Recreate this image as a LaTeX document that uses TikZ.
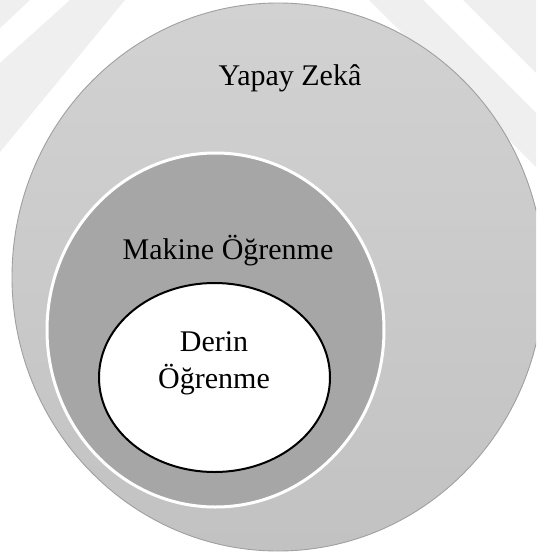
\documentclass[tikz,border=0pt]{standalone}
\usepackage{fontspec}
\setmainfont{Liberation Serif}
\usetikzlibrary{shapes.geometric}

\definecolor{markgray}{HTML}{EFEFEF}
\definecolor{aitop}{HTML}{D2D2D2}
\definecolor{aibottom}{HTML}{C2C2C2}
\definecolor{aiedge}{HTML}{A0A0A0}
\definecolor{mlfill}{HTML}{A6A6A6}

\tikzset{
  setlabel/.style={font=\fontsize{30}{37}\selectfont, text=black, inner sep=0pt, anchor=base},
  band/.style={fill=markgray, draw=none},
  aiset/.style={ellipse, inner sep=0pt, outer sep=0pt, draw=aiedge, line width=0.9pt,
                top color=aitop, bottom color=aibottom},
  mlset/.style={ellipse, inner sep=0pt, outer sep=0pt, draw=white, line width=3pt, fill=mlfill},
  dlset/.style={ellipse, inner sep=0pt, outer sep=0pt, draw=black, line width=2pt, fill=white},
}

\begin{document}
\begin{tikzpicture}[x=1pt, y=-1pt]
  \useasboundingbox (0,0) rectangle (536,554);
  \fill[white] (0,0) rectangle (536,554);
  \clip (0,0) rectangle (536,554);

  % faint diagonal bands in the background
  \fill[band] (0,0) -- (30,0) -- (0,28) -- cycle;
  \fill[band] (70,0) -- (125,0) -- (0,152) -- (0,63) -- cycle;
  \fill[band] (369,0) -- (423,0) -- (536,113) -- (536,167) -- cycle;
  \fill[band] (463,0) -- (536,0) -- (536,73) -- cycle;

  % nested sets
  \node[aiset, minimum width=532pt, minimum height=548pt] (ai) at (278,277) {};
  \node[mlset, minimum width=337pt, minimum height=354pt] (ml) at (215.5,330) {};
  \node[dlset, minimum width=231pt, minimum height=189pt] (dl) at (214.5,377.5) {};

  % set names
  \node[setlabel] (ailabel) at (290,85) {Yapay Zekâ};
  \node[setlabel] (mllabel) at (228,259) {Makine Öğrenme};
  \node[setlabel] (dllabel1) at (214,351) {Derin};
  \node[setlabel] (dllabel2) at (214,388) {Öğrenme};
\end{tikzpicture}
\end{document}
